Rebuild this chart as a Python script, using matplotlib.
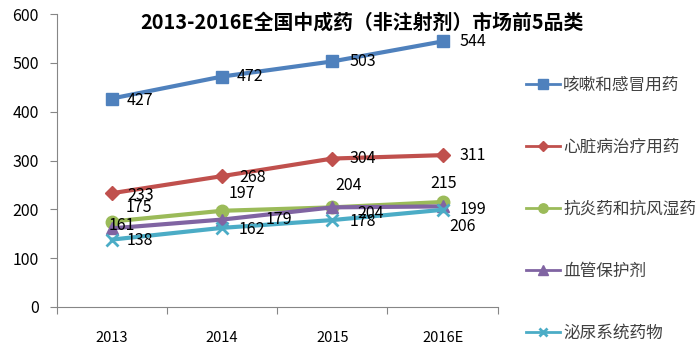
import matplotlib
matplotlib.use('Agg')
import matplotlib.pyplot as plt

plt.rcParams['font.family'] = ['Noto Sans CJK SC', 'DejaVu Sans']

# %% data
years = ['2013', '2014', '2015', '2016E']
series_names = ['咳嗽和感冒用药', '心脏病治疗用药', '抗炎药和抗风湿药', '血管保护剂', '泌尿系统药物']
cough = [427, 472, 503, 544]
heart = [233, 268, 304, 311]
antiinfl = [175, 197, 204, 215]
vessel = [161, 179, 204, 206]
urinary = [138, 162, 178, 199]
values = [cough, heart, antiinfl, vessel, urinary]

# %% styles
colors = ['#4F81BD', '#C0504D', '#9BBB59', '#8064A2', '#4BACC6']
markers = ['s', 'D', 'o', '^', 'x']
msizes = [9, 7, 9, 9, 8]
# label offsets in pixels (dx, dy)
offsets = [
    [(15, -2), (15, 0), (17, 0), (17, 0)],
    [(15, -2), (17, -1), (17, 0), (17, 0)],
    [(14, 14), (7, 17), (3, 22), (-12, 19)],
    [(-3, 3), (44, 0), (25, -6), (7, -20)],
    [(15, -1), (17, -2), (17, -1), (17, 0)],
]

fig = plt.figure(figsize=(7, 3.52), dpi=100)
ax = fig.add_axes([0.081, 0.128, 0.63, 0.832])

x = list(range(len(years)))
for k in range(len(series_names)):
    ax.plot(x, values[k], color=colors[k], lw=3, marker=markers[k],
            markersize=msizes[k], markeredgewidth=2 if markers[k] == 'x' else 1,
            markeredgecolor=colors[k], label=series_names[k], zorder=3)
    for i, v in enumerate(values[k]):
        ax.annotate(str(v), (x[i], v), xytext=offsets[k][i], textcoords='offset pixels',
                    ha='left', va='center', fontsize=11.5, color='black', zorder=4)

ax.set_xlim(-0.5, 3.5)
ax.set_ylim(0, 600)
ax.set_yticks(range(0, 601, 100))
ax.set_xticks([-0.5, 0.5, 1.5, 2.5, 3.5])
ax.set_xticklabels([])
ax.set_xticks(x, minor=True)
ax.set_xticklabels(years, minor=True)
ax.tick_params(axis='x', which='minor', length=0, pad=17, labelsize=10.5)
ax.tick_params(axis='x', which='major', length=5, color='#868686')
ax.tick_params(axis='y', length=5, color='#868686', pad=8, labelsize=11.5)
for s in ['top', 'right']:
    ax.spines[s].set_visible(False)
for s in ['left', 'bottom']:
    ax.spines[s].set_color('#868686')

fig.text(0.517, 0.937, '2013-2016E全国中成药（非注射剂）市场前5品类', ha='center', va='center',
         fontsize=14.3, fontweight='bold')

leg = fig.legend(loc='upper left', bbox_to_anchor=(0.752, 0.782), frameon=False, fontsize=12,
                 handlelength=2.0, handletextpad=0.2, labelspacing=2.7, borderpad=0,
                 borderaxespad=0, markerscale=0.75)
for h in leg.legend_handles:
    h.set_linewidth(2)
for t in leg.get_texts():
    t.set_color('#404040')

fig.savefig('out.png', dpi=100)
